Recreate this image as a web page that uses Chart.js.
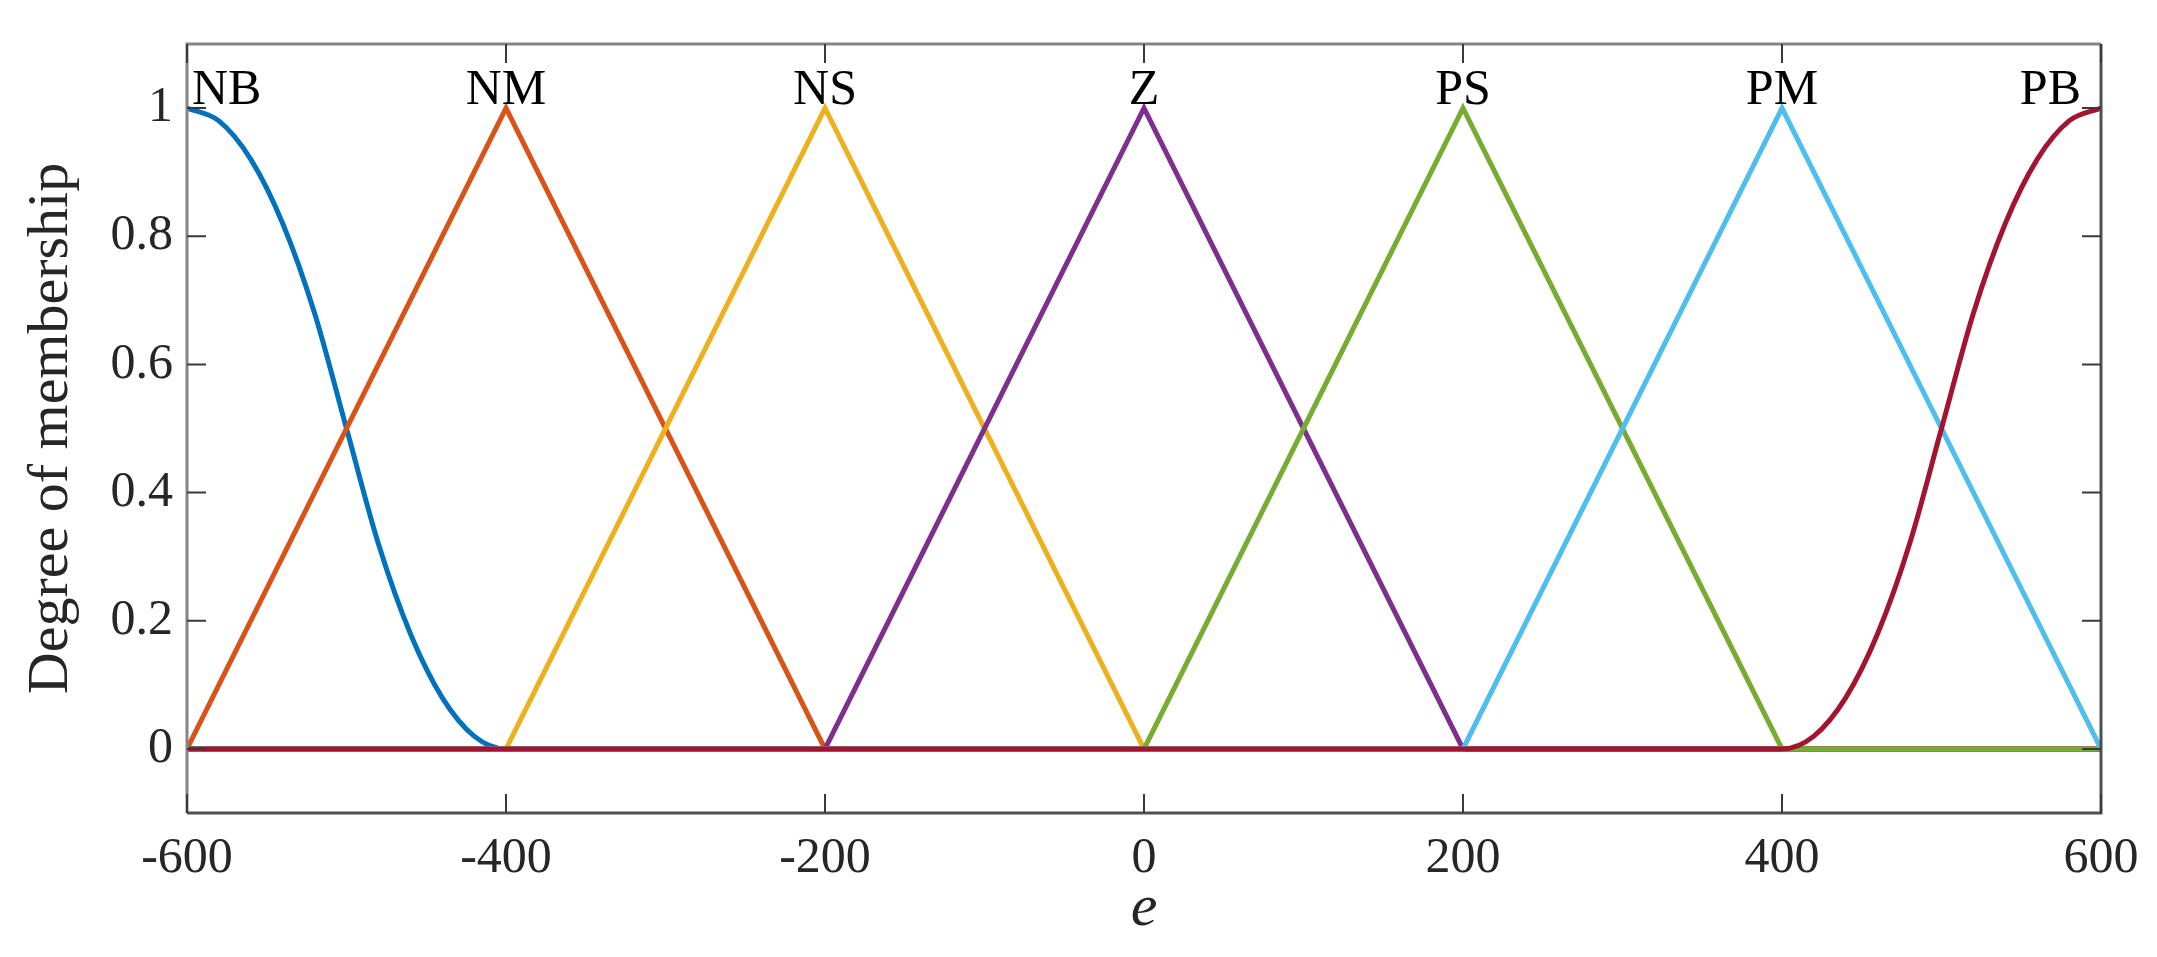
<!DOCTYPE html>
<html>
<head>
<meta charset="utf-8">
<script src="https://cdn.jsdelivr.net/npm/chart.js@4.4.1/dist/chart.umd.min.js"></script>
<style>
    html, body { margin: 0; padding: 0; background: #fff; }
    #wrap { width: 2157px; height: 957px; }
</style>
</head>
<body>
<div id="wrap"><canvas id="mfChart"></canvas></div>
<script>
// Membership functions
const eGrid = [-600, -400, -200, 0, 200, 400, 600];
const nmValues = [0, 1, 0, 0, 0, 0, 0];
const nsValues = [0, 0, 1, 0, 0, 0, 0];
const zValues = [0, 0, 0, 1, 0, 0, 0];
const psValues = [0, 0, 0, 0, 1, 0, 0];
const pmValues = [0, 0, 0, 0, 0, 1, 0];

// Z-shaped NB and S-shaped PB curves
const nbX = [-600, -580, -560, -540, -520, -500, -480, -460, -440, -420, -400, -200, 0, 200, 400, 600];
const nbValues = [1, 0.98, 0.92, 0.82, 0.68, 0.5, 0.32, 0.18, 0.08, 0.02, 0, 0, 0, 0, 0, 0];
const pbX = [-600, -400, -200, 0, 200, 400, 420, 440, 460, 480, 500, 520, 540, 560, 580, 600];
const pbValues = [0, 0, 0, 0, 0, 0, 0.02, 0.08, 0.18, 0.32, 0.5, 0.68, 0.82, 0.92, 0.98, 1];

const setNames = ['NB', 'NM', 'NS', 'Z', 'PS', 'PM', 'PB'];
const setPeaks = [-600, -400, -200, 0, 200, 400, 600];
const setColors = ['#0072BD', '#D95319', '#EDB120', '#7E2F8E', '#77AC30', '#4DBEEE', '#A2142F'];

const xTicks = [-600, -400, -200, 0, 200, 400, 600];
const yTicks = [0, 0.2, 0.4, 0.6, 0.8, 1];

const SERIF = '"Liberation Serif", "Times New Roman", serif';

function toPoints(xs, ys) {
    return xs.map((x, i) => ({ x: x, y: ys[i] }));
}

const seriesData = [
    toPoints(nbX, nbValues),
    toPoints(eGrid, nmValues),
    toPoints(eGrid, nsValues),
    toPoints(eGrid, zValues),
    toPoints(eGrid, psValues),
    toPoints(eGrid, pmValues),
    toPoints(pbX, pbValues)
];

// Later sets are drawn on top, like in the original plot
const datasets = seriesData.map((pts, i) => ({
    label: setNames[i],
    data: pts,
    borderColor: setColors[i],
    borderWidth: 5,
    pointRadius: 0,
    fill: false,
    order: setNames.length - i,
    cubicInterpolationMode: (i === 0 || i === 6) ? 'monotone' : 'default',
    tension: 0
}));

// Box frame with inward ticks and set labels
const framePlugin = {
    id: 'frame',
    afterDatasetsDraw(chart) {
        const ctx = chart.ctx;
        const area = chart.chartArea;
        const xs = chart.scales.x;
        const ys = chart.scales.y;
        const tick = 19;

        ctx.save();
        ctx.lineWidth = 3;
        // top and left edges lighter, right and bottom darker
        ctx.strokeStyle = '#858585';
        ctx.beginPath();
        ctx.moveTo(area.left, area.bottom);
        ctx.lineTo(area.left, area.top);
        ctx.lineTo(area.right, area.top);
        ctx.stroke();
        ctx.strokeStyle = '#505050';
        ctx.beginPath();
        ctx.moveTo(area.right, area.top);
        ctx.lineTo(area.right, area.bottom);
        ctx.lineTo(area.left, area.bottom);
        ctx.stroke();

        ctx.lineWidth = 2;
        ctx.strokeStyle = '#3a3a3a';
        ctx.beginPath();
        xTicks.forEach(v => {
            const px = xs.getPixelForValue(v);
            ctx.moveTo(px, area.bottom);
            ctx.lineTo(px, area.bottom - tick);
            ctx.moveTo(px, area.top);
            ctx.lineTo(px, area.top + tick);
        });
        yTicks.forEach(v => {
            const py = ys.getPixelForValue(v);
            ctx.moveTo(area.left, py);
            ctx.lineTo(area.left + tick, py);
            ctx.moveTo(area.right, py);
            ctx.lineTo(area.right - tick, py);
        });
        ctx.stroke();

        // set names above the peaks
        ctx.fillStyle = '#000';
        ctx.font = '50px ' + SERIF;
        ctx.textBaseline = 'alphabetic';
        const peakY = ys.getPixelForValue(1) - 4;
        setNames.forEach((name, i) => {
            let px = xs.getPixelForValue(setPeaks[i]);
            if (i === 0) {
                ctx.textAlign = 'left';
                px += 5;
            } else if (i === setNames.length - 1) {
                ctx.textAlign = 'right';
                px -= 20;
            } else {
                ctx.textAlign = 'center';
            }
            ctx.fillText(name, px, peakY);
        });
        ctx.restore();
    }
};

const ctx = document.getElementById('mfChart').getContext('2d');
new Chart(ctx, {
    type: 'line',
    data: { datasets: datasets },
    plugins: [framePlugin],
    options: {
        responsive: true,
        maintainAspectRatio: false,
        animation: false,
        layout: {
            padding: { top: 40, right: 56, left: 0, bottom: 0 }
        },
        plugins: {
            legend: { display: false },
            tooltip: { enabled: false }
        },
        scales: {
            x: {
                type: 'linear',
                min: -600,
                max: 600,
                afterBuildTicks: scale => { scale.ticks = xTicks.map(v => ({ value: v })); },
                afterFit: scale => { scale.height = 144; },
                grid: { display: false, drawTicks: false },
                border: { display: false },
                ticks: {
                    color: '#262626',
                    padding: 16,
                    maxRotation: 0,
                    font: { family: SERIF, size: 50 },
                    callback: v => String(v)
                },
                title: {
                    display: true,
                    text: 'e',
                    color: '#262626',
                    padding: { top: 0, bottom: 12 },
                    font: { family: SERIF, size: 60, style: 'italic' }
                }
            },
            y: {
                type: 'linear',
                min: -0.1,
                max: 1.1,
                afterBuildTicks: scale => { scale.ticks = yTicks.map(v => ({ value: v })); },
                afterFit: scale => { scale.width = 187; },
                grid: { display: false, drawTicks: false },
                border: { display: false },
                ticks: {
                    color: '#262626',
                    padding: 14,
                    font: { family: SERIF, size: 50 },
                    callback: v => String(Math.round(v * 10) / 10)
                },
                title: {
                    display: true,
                    text: 'Degree of membership',
                    color: '#262626',
                    padding: { top: 17, bottom: 0 },
                    font: { family: SERIF, size: 58 }
                }
            }
        }
    }
});
</script>
</body>
</html>
